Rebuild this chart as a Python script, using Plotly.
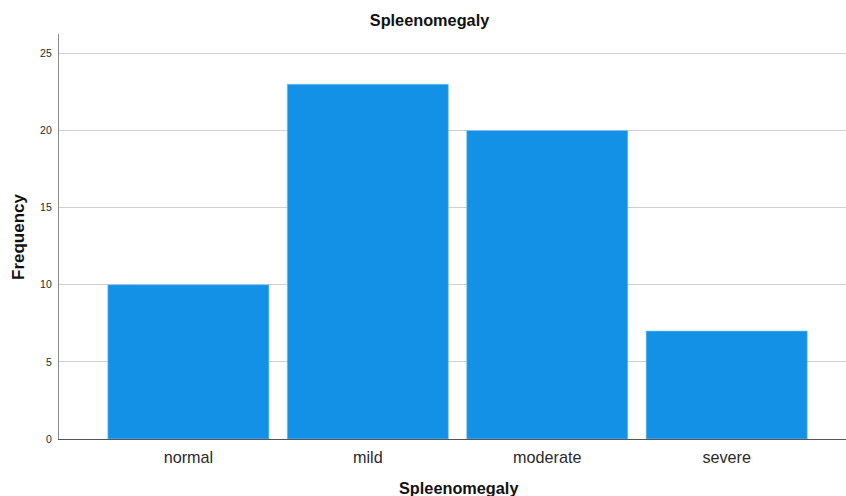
import plotly.graph_objects as go

categories = ["normal", "mild", "moderate", "severe"]
frequency = [10, 23, 20, 7]
y_ticks = [0, 5, 10, 15, 20, 25]

W, H = 846, 496
L, R, T, B = 59, 0, 34, 57
plot_w = W - L - R
plot_h = H - T - B

fig = go.Figure(go.Bar(
    x=categories, y=frequency,
    marker=dict(color="#1391E7", line=dict(color="#8cc8f2", width=0.6)),
    hoverinfo="x+y",
))

font_family = "Liberation Sans, Arial, sans-serif"

fig.update_layout(
    width=W, height=H,
    margin=dict(l=L, r=R, t=T, b=B, pad=0),
    paper_bgcolor="white", plot_bgcolor="white",
    bargap=0.102,
    showlegend=False,
    font=dict(family=font_family, color="#222222"),
    title=dict(text="<b>Spleenomegaly</b>", xref="container", x=429.5 / W,
               xanchor="center", yref="container", y=1 - 20 / H, yanchor="middle",
               font=dict(size=16.3, color="#111111", family=font_family)),
    xaxis=dict(range=[-0.721, 3.665], showgrid=False, showline=True,
               linecolor="#555555", linewidth=1, ticks="", zeroline=False,
               tickfont=dict(size=16.2, color="#2a2a2a"), ticklabelstandoff=4),
    yaxis=dict(range=[0, 26.25], tickvals=y_ticks, showgrid=True,
               gridcolor="#d0d0d0", gridwidth=1.3, showline=True,
               linecolor="#8a8a8a", linewidth=1.3, ticks="", zeroline=False,
               tickfont=dict(size=10.5, color="#2a2a2a"), ticklabelstandoff=4),
    annotations=[
        dict(text="<b>Spleenomegaly</b>", xref="paper", yref="paper",
             x=(458 - L) / plot_w, y=-(488 - (H - B)) / plot_h,
             xanchor="center", yanchor="middle", showarrow=False,
             font=dict(size=16.3, color="#111111", family=font_family)),
        dict(text="<b>Frequency</b>", xref="paper", yref="paper",
             x=(18 - L) / plot_w, y=((H - B) - 237) / plot_h, textangle=-90,
             xanchor="center", yanchor="middle", showarrow=False,
             font=dict(size=17, color="#111111", family=font_family)),
    ],
)

fig.write_html(
    "out.html",
    config={"displayModeBar": False},
    post_script="document.body.style.margin='0';document.body.style.overflow='hidden';",
)
